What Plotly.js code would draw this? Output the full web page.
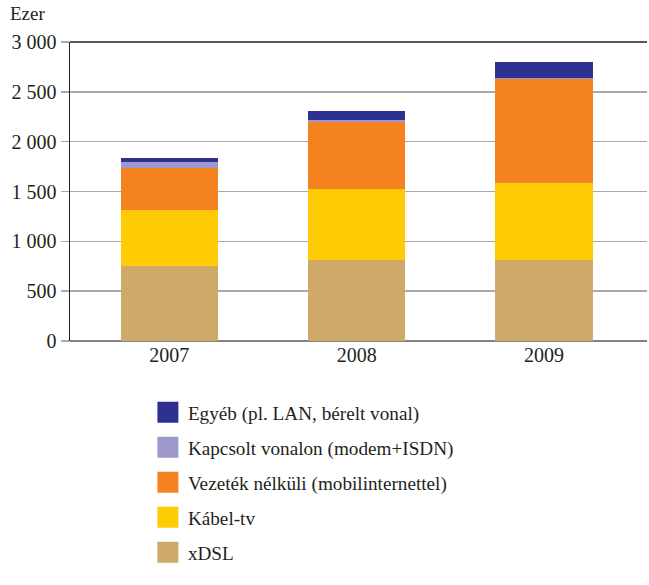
<!DOCTYPE html>
<html>
<head>
<meta charset="utf-8">
<script src="https://cdn.plot.ly/plotly-3.0.1.min.js"></script>
<style>html,body{margin:0;padding:0;background:#fff;}#chart{width:649px;height:585px;}</style>
</head>
<body>
<div id="chart"></div>
<script>
var years = ["2007", "2008", "2009"];
var xdsl = [750, 810, 810];
var kabel = [565, 720, 778];
var vezetekNelkuli = [420, 667, 1037];
var kapcsolt = [58, 25, 10];
var egyeb = [45, 90, 160];

var seriesNames = ["xDSL", "Kábel-tv", "Vezeték nélküli (mobilinternettel)", "Kapcsolt vonalon (modem+ISDN)", "Egyéb (pl. LAN, bérelt vonal)"];
var seriesValues = [xdsl, kabel, vezetekNelkuli, kapcsolt, egyeb];
var seriesColors = ["#CFA968", "#FFCB05", "#F58220", "#9E99CC", "#2E3192"];

var traces = seriesNames.map(function (name, i) {
  return {
    type: "bar",
    name: name,
    x: years,
    y: seriesValues[i],
    showlegend: false,
    marker: { color: seriesColors[i], line: { width: 0 } },
    hoverinfo: "none"
  };
});
// legend-only entries (larger square swatches)
seriesNames.forEach(function (name, i) {
  traces.push({
    type: "scatter",
    mode: "markers",
    name: name,
    x: [null],
    y: [null],
    legendgroup: "g" + i,
    legendrank: 100 - i,
    marker: { symbol: "square", size: 16, color: seriesColors[i],
              line: { width: 5, color: seriesColors[i] } },
    hoverinfo: "none"
  });
});

var font = "Liberation Serif";
var layout = {
  width: 649,
  height: 585,
  margin: { l: 70, r: 2, t: 42, b: 244 },
  paper_bgcolor: "#fff",
  plot_bgcolor: "#fff",
  barmode: "stack",
  bargap: 0.48,
  separators: ", ",
  font: { family: font, size: 20, color: "#231f20" },
  showlegend: true,
  legend: {
    x: 0.135, xanchor: "left",
    y: -0.175, yanchor: "top",
    traceorder: "grouped",
    tracegroupgap: 7,
    itemsizing: "trace",
    font: { family: font, size: 19.2, color: "#231f20" }
  },
  xaxis: {
    type: "category",
    range: [-0.53, 2.55],
    showgrid: false,
    showline: false,
    ticks: "",
    tickfont: { family: font, size: 20, color: "#231f20" }
  },
  yaxis: {
    range: [0, 3000],
    dtick: 500,
    separatethousands: true,
    showgrid: true,
    gridcolor: "#a7a9ac",
    gridwidth: 1.5,
    zeroline: true,
    zerolinecolor: "#808285",
    zerolinewidth: 1.5,
    showline: true,
    linecolor: "#231f20",
    linewidth: 1.5,
    ticks: "outside",
    ticklen: 8,
    tickcolor: "#a7a9ac",
    tickwidth: 1.5,
    tickfont: { family: font, size: 20, color: "#231f20" }
  },
  shapes: [
    { type: "line", xref: "paper", yref: "paper", x0: 0, x1: 1, y0: 1, y1: 1,
      line: { color: "#231f20", width: 1.5 } }
  ],
  annotations: [
    { text: "Ezer", xref: "paper", yref: "paper", x: -0.108, y: 1.055,
      xanchor: "left", yanchor: "bottom", showarrow: false,
      font: { family: font, size: 19, color: "#231f20" } }
  ]
};

Plotly.newPlot("chart", traces, layout, { displayModeBar: false, staticPlot: true });
</script>
</body>
</html>
